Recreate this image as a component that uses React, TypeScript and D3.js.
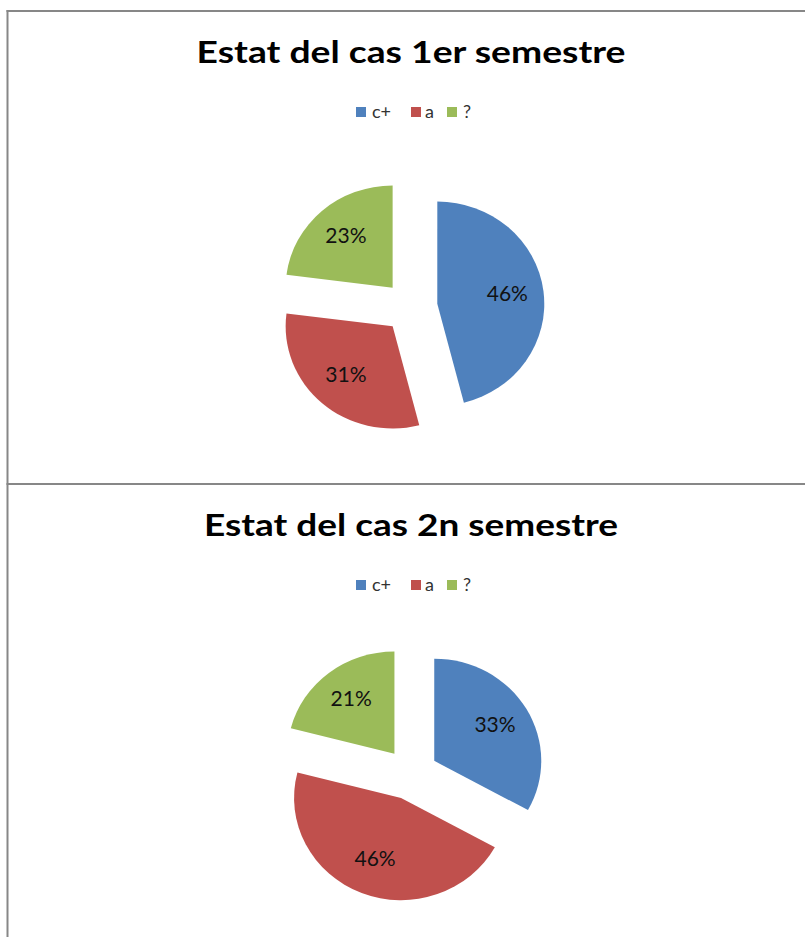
import React from "react";
import * as d3 from "d3";

const categories = ["c+", "a", "?"];
const titles = ["Estat del cas 1er semestre", "Estat del cas 2n semestre"];
const semester1 = [46, 31, 23];
const semester2 = [33, 46, 21];
const series = [semester1, semester2];
const colors = ["#4F81BD", "#C0504D", "#9BBB59"];

const W = 805;
const H = 937;

type Layout = { top: number; cx: number; cy: number; titleLen: number };
const layouts: Layout[] = [
  { top: 11, cx: 410.5, cy: 307, titleLen: 429 },
  { top: 484, cx: 411, cy: 774, titleLen: 414 },
];

const R = 107;
const SY = 0.955;
const EXPLODE = 27;

function PieChart({ values, title, layout }: { values: number[]; title: string; layout: Layout }) {
  const pie = d3.pie<number>().sort(null).value((d) => d).startAngle(0).endAngle(2 * Math.PI);
  const arcs = pie(values);
  const arc = d3.arc<d3.PieArcDatum<number>>().innerRadius(0).outerRadius(R);
  const total = d3.sum(values);
  const legendSquareX = [356, 411, 447];
  const legendTextX = [372, 425, 463];
  const legendY = layout.top + 96;
  return (
    <g>
      <text
        x={W / 2 + 8.5}
        y={layout.top + 51.7}
        textAnchor="middle"
        fontFamily="Lato, 'Open Sans', sans-serif"
        fontWeight="bold"
        fontSize={30}
        fill="#000"
        textLength={layout.titleLen}
        lengthAdjust="spacingAndGlyphs"
      >
        {title}
      </text>
      {categories.map((c, i) => (
        <g key={c}>
          <rect x={legendSquareX[i]} y={legendY} width={10} height={10} fill={colors[i]} />
          <text
            x={legendTextX[i]}
            y={legendY + 11}
            fontFamily="Lato, 'Open Sans', sans-serif"
            fontSize={18}
            fill="#333"
          >
            {c}
          </text>
        </g>
      ))}
      <g transform={`translate(${layout.cx},${layout.cy}) scale(1,${SY})`}>
        {arcs.map((a, i) => {
          const mid = (a.startAngle + a.endAngle) / 2;
          const ox = Math.sin(mid) * EXPLODE;
          const oy = -Math.cos(mid) * EXPLODE;
          return (
            <path key={i} d={arc(a) || ""} fill={colors[i]} transform={`translate(${ox},${oy})`} />
          );
        })}
      </g>
      {arcs.map((a, i) => {
        const mid = (a.startAngle + a.endAngle) / 2;
        const dist = EXPLODE + 0.66 * R;
        const lx = layout.cx + Math.sin(mid) * dist;
        const ly = layout.cy - Math.cos(mid) * dist * SY - 3;
        return (
          <text
            key={"l" + i}
            x={lx}
            y={ly}
            textAnchor="middle"
            dominantBaseline="central"
            fontFamily="Lato, 'Open Sans', sans-serif"
            fontSize={21}
            fill="#111"
          >
            {Math.round((a.data / total) * 100) + "%"}
          </text>
        );
      })}
    </g>
  );
}

export default function App() {
  return (
    <svg
      width={W}
      height={H}
      style={{ position: "absolute", left: 0, top: 0, background: "#fff" }}
    >
      <rect x={0} y={0} width={W} height={H} fill="#fff" />
      {series.map((vals, i) => (
        <PieChart key={i} values={vals} title={titles[i]} layout={layouts[i]} />
      ))}
      <line x1={7.5} y1={10} x2={7.5} y2={H} stroke="#878787" strokeWidth={2} />
      <line x1={6.5} y1={11} x2={W} y2={11} stroke="#878787" strokeWidth={2} />
      <line x1={6.5} y1={484} x2={W} y2={484} stroke="#878787" strokeWidth={2} />
    </svg>
  );
}
